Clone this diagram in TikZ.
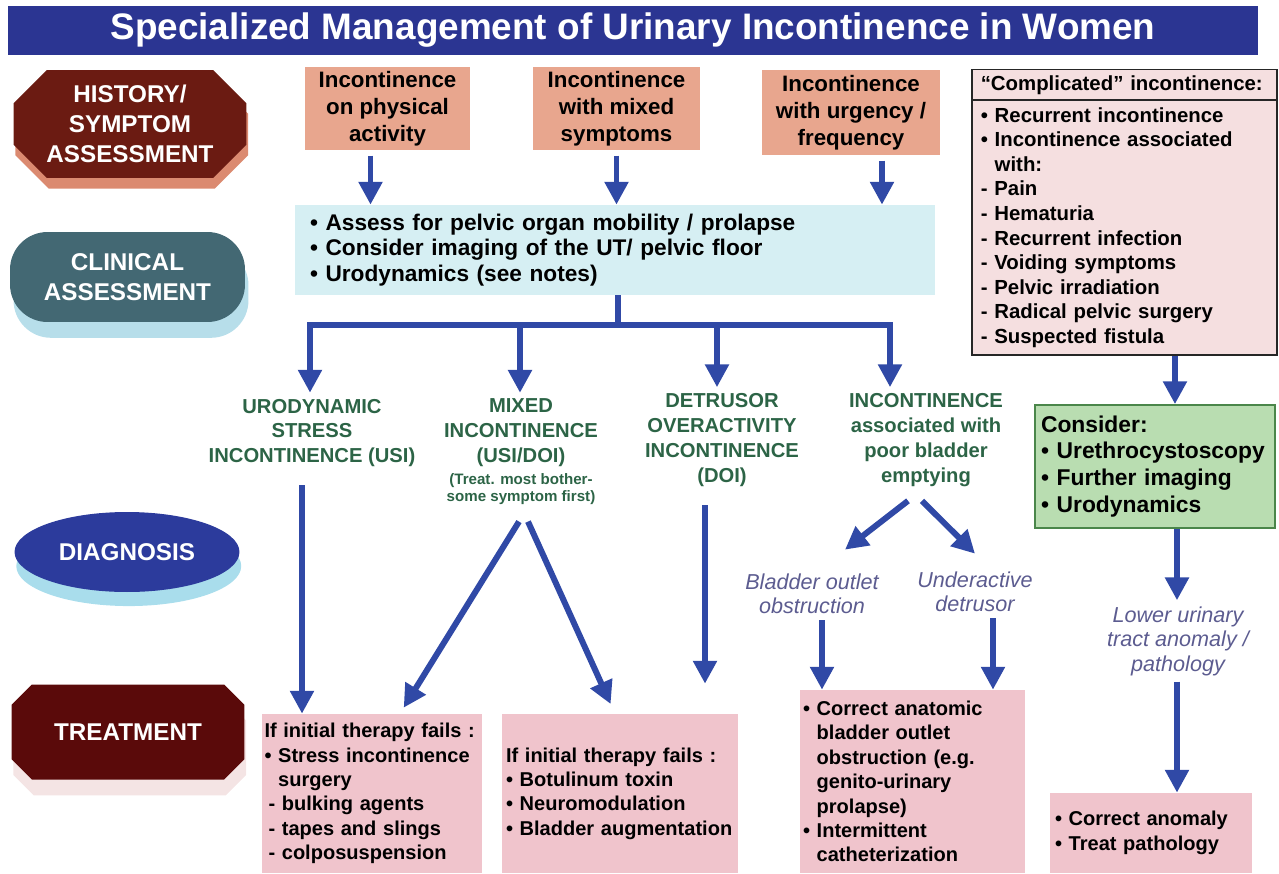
\documentclass[tikz,border=0pt]{standalone}
\usepackage{fontspec}
\setmainfont{Liberation Sans}
\usetikzlibrary{arrows.meta,positioning,calc,shapes.geometric,shapes.misc,shadows}
\definecolor{Banner}{HTML}{2B3592}
\definecolor{Maroon}{HTML}{6B1B12}
\definecolor{DarkMaroon}{HTML}{5A0A0A}
\definecolor{Peach}{HTML}{DB8A70}
\definecolor{Slate}{HTML}{436873}
\definecolor{Sky}{HTML}{B7DEEA}
\definecolor{Navy}{HTML}{2C3B9C}
\definecolor{Aqua}{HTML}{A9DDEC}
\definecolor{Blush}{HTML}{F4E4E4}
\definecolor{Salmon}{HTML}{E8A68E}
\definecolor{Ice}{HTML}{D6EFF3}
\definecolor{Rose}{HTML}{F0C4CC}
\definecolor{Shell}{HTML}{F5DFE0}
\definecolor{Mint}{HTML}{B9DDB1}
\definecolor{Leaf}{HTML}{4A864A}
\definecolor{Flow}{HTML}{3049A6}
\definecolor{Pine}{HTML}{2C6446}
\definecolor{Lilac}{HTML}{5C5C90}

\begin{document}
\begin{tikzpicture}[x=0.02cm, y=-0.02cm,
    stage/.style={text=white, font=\bfseries\fontsize{13.8}{17}\selectfont, align=center},
    srcbox/.style={fill=Salmon, font=\bfseries\fontsize{12.7}{15.3}\selectfont, align=center, inner sep=0pt},
    carebox/.style={fill=Rose, font=\bfseries\fontsize{11.4}{13.9}\selectfont, align=left, inner ysep=0pt},
    listbox/.style={fill=Shell, draw=black!85, line width=0.9pt, font=\bfseries\fontsize{11.6}{14}\selectfont, align=left, text width=5.75cm, inner xsep=0.175cm},
    diagtxt/.style={text=Pine, font=\bfseries\fontsize{11.5}{14.2}\selectfont, align=center},
    subtxt/.style={text=Lilac, font=\itshape\fontsize{12.3}{13.9}\selectfont, align=center},
    flow/.style={-{Triangle[length=13pt,width=13pt]}, line width=3.4pt, draw=Flow},
    bar/.style={line width=3.6pt, draw=Flow}
  ]
  \useasboundingbox (0,0) rectangle (1279,873);

  \node[fill=Banner, text=white, minimum width=25cm, minimum height=0.98cm, font=\bfseries\fontsize{21}{24}\selectfont] (title) at (633,30.5) {Specialized Management of Urinary Incontinence in Women};

  % stage labels on the left
  \node[stage, chamfered rectangle, chamfered rectangle xsep=0.54cm, fill=Maroon, minimum width=4.6cm, minimum height=2.16cm, drop shadow={shadow xshift=1pt, shadow yshift=-6pt, fill=Peach, opacity=1}] (hist) at (130,124) {HISTORY/\\SYMPTOM\\ASSESSMENT};
  \node[stage, fill=Slate, rounded corners=0.75cm, minimum width=4.7cm, minimum height=1.8cm, drop shadow={shadow xshift=2pt, shadow yshift=-9pt, fill=Sky, opacity=1}] (clin) at (127.5,277) {CLINICAL\\ASSESSMENT};
  \node[stage, ellipse, fill=Navy, minimum width=4.5cm, minimum height=1.6cm, drop shadow={shadow xshift=1pt, shadow yshift=-8pt, fill=Aqua, opacity=1}] (diag) at (127,552) {DIAGNOSIS};
  \node[stage, chamfered rectangle, chamfered rectangle xsep=0.66cm, fill=DarkMaroon, minimum width=4.66cm, minimum height=1.9cm, drop shadow={shadow xshift=1pt, shadow yshift=-9pt, fill=Blush, opacity=1}] (treat) at (128,732) {TREATMENT};

  % history
  \node[srcbox, minimum width=3.3cm, minimum height=1.66cm] (inc1) at (387.5,108.5) {Incontinence\\on physical\\activity};
  \node[srcbox, minimum width=3.34cm, minimum height=1.66cm] (inc2) at (616.5,108.5) {Incontinence\\with mixed\\symptoms};
  \node[srcbox, minimum width=3.56cm, minimum height=1.7cm] (inc3) at (851,112.5) {Incontinence\\with urgency /\\frequency};

  \node[listbox, minimum height=0.6cm] (complhead) at (1124.5,85) {“Complicated” incontinence:};
  \node[listbox, minimum height=5.1cm] (compl) at (1124.5,227.5) {• Recurrent incontinence\\• Incontinence associated\\\phantom{• }with:\\- Pain\\- Hematuria\\- Recurrent infection\\- Voiding symptoms\\- Pelvic irradiation\\- Radical pelvic surgery\\- Suspected fistula};

  % clinical assessment
  \node[fill=Ice, font=\bfseries\fontsize{12.9}{14.7}\selectfont, align=left, text width=12.2cm, inner xsep=0.3cm, minimum height=1.8cm] (assess) at (615,250) {• Assess for pelvic organ mobility / prolapse\\• Consider imaging of the UT/ pelvic floor\\• Urodynamics (see notes)};

  % diagnosis
  \node[diagtxt] (usi) at (312,433) {URODYNAMIC\\STRESS\\INCONTINENCE (USI)};
  \node[diagtxt] (mixed) at (521,433) {MIXED\\INCONTINENCE\\(USI/DOI)};
  \node[diagtxt, font=\bfseries\fontsize{8.6}{9.6}\selectfont, inner sep=1pt] (mixnote) at (521,489) {(Treat. most bother-\\some symptom first)};
  \node[diagtxt] (doi) at (722,440) {DETRUSOR\\OVERACTIVITY\\INCONTINENCE\\(DOI)};
  \node[diagtxt] (poor) at (926,440) {INCONTINENCE\\associated with\\poor bladder\\emptying};
  \node[subtxt] (boo) at (812,594) {Bladder outlet\\obstruction};
  \node[subtxt] (uad) at (975,592) {Underactive\\detrusor};

  \node[fill=Mint, draw=Leaf, line width=1pt, font=\bfseries\fontsize{13}{15.3}\selectfont, align=left, text width=4.56cm, inner xsep=0.12cm, minimum height=2.46cm] (consider) at (1155,466.5) {Consider:\\• Urethrocystoscopy\\• Further imaging\\• Urodynamics};
  \node[subtxt] (lut) at (1178,641) {Lower urinary\\tract anomaly /\\pathology};

  % treatment
  \node[carebox, text width=4.3cm, inner xsep=0.05cm, minimum height=3.18cm] (tr1) at (372,793.5) {If initial therapy fails :\\• Stress incontinence\\\phantom{• }surgery\\\hspace*{0.2em}- bulking agents\\\hspace*{0.2em}- tapes and slings\\\hspace*{0.2em}- colposuspension};
  \node[carebox, text width=4.56cm, inner xsep=0.08cm, minimum height=3.18cm] (tr2) at (620,793.5) {If initial therapy fails :\\• Botulinum toxin\\• Neuromodulation\\• Bladder augmentation};
  \node[carebox, text width=4.38cm, inner xsep=0.06cm, minimum height=3.66cm] (tr3) at (912.5,781.5) {• Correct anatomic\\\phantom{• }bladder outlet\\\phantom{• }obstruction (e.g.\\\phantom{• }genito-urinary\\\phantom{• }prolapse)\\• Intermittent\\\phantom{• }catheterization};
  \node[carebox, text width=3.84cm, inner xsep=0.1cm, minimum height=1.6cm] (tr4) at (1151,833) {• Correct anomaly\\• Treat pathology};

  % arrows
  \coordinate (a1) at ([xshift=-0.34cm]inc1.south);
  \coordinate (a2) at (inc2.south);
  \coordinate (a3) at ([xshift=0.62cm]inc3.south);
  \foreach \p in {a1,a2,a3}
    \draw[flow, shorten <=3pt] (\p) -- (\p |- assess.north);

  \coordinate (split) at (618,325);
  \coordinate (b1) at (310,325);
  \coordinate (b2) at (520,325);
  \coordinate (b3) at (717,325);
  \coordinate (b4) at (890,325);
  \draw[bar] (assess.south -| split) -- (split);
  \draw[bar, line cap=rect] (b1) -- (b4);
  \draw[flow] (b1) -- (b1 |- usi.north);
  \draw[flow] (b2) -- (b2 |- mixed.north);
  \draw[flow] (b3) -- (b3 |- doi.north);
  \draw[flow] (b4) -- (b4 |- poor.north);

  \coordinate (c1) at ([xshift=-0.2cm,yshift=-0.24cm]usi.south);
  \draw[flow] (c1) -- (c1 |- tr1.north);
  \draw[flow, shorten >=4pt] ([xshift=-0.04cm,yshift=-0.3cm]mixnote.south) -- ([xshift=0.56cm]tr1.north);
  \draw[flow, shorten >=6pt] ([xshift=0.14cm,yshift=-0.3cm]mixnote.south) -- ([xshift=-0.1cm]tr2.north);
  \coordinate (c3) at ([xshift=-0.34cm,yshift=-0.25cm]doi.south);
  \draw[flow, shorten >=0.6cm] (c3) -- (c3 |- tr2.north);
  \draw[flow] ([xshift=-0.36cm,yshift=-0.16cm]poor.south) -- ([xshift=0.66cm,yshift=0.36cm]boo.north);
  \draw[flow] ([xshift=-0.08cm,yshift=-0.16cm]poor.south) -- ([yshift=0.24cm]uad.north);
  \coordinate (c5) at ([xshift=0.2cm]boo.south);
  \draw[flow] (c5) -- (c5 |- tr3.north);
  \coordinate (c6) at ([xshift=0.36cm]uad.south);
  \draw[flow] (c6) -- (c6 |- tr3.north);

  \coordinate (c7) at ([xshift=1.01cm]compl.south);
  \draw[flow] (c7) -- (c7 |- consider.north);
  \coordinate (c8) at ([xshift=0.44cm]consider.south);
  \draw[flow] (c8) -- (c8 |- lut.north);
  \coordinate (c9) at ([xshift=-0.02cm]lut.south);
  \draw[flow] (c9) -- (c9 |- tr4.north);
\end{tikzpicture}
\end{document}
